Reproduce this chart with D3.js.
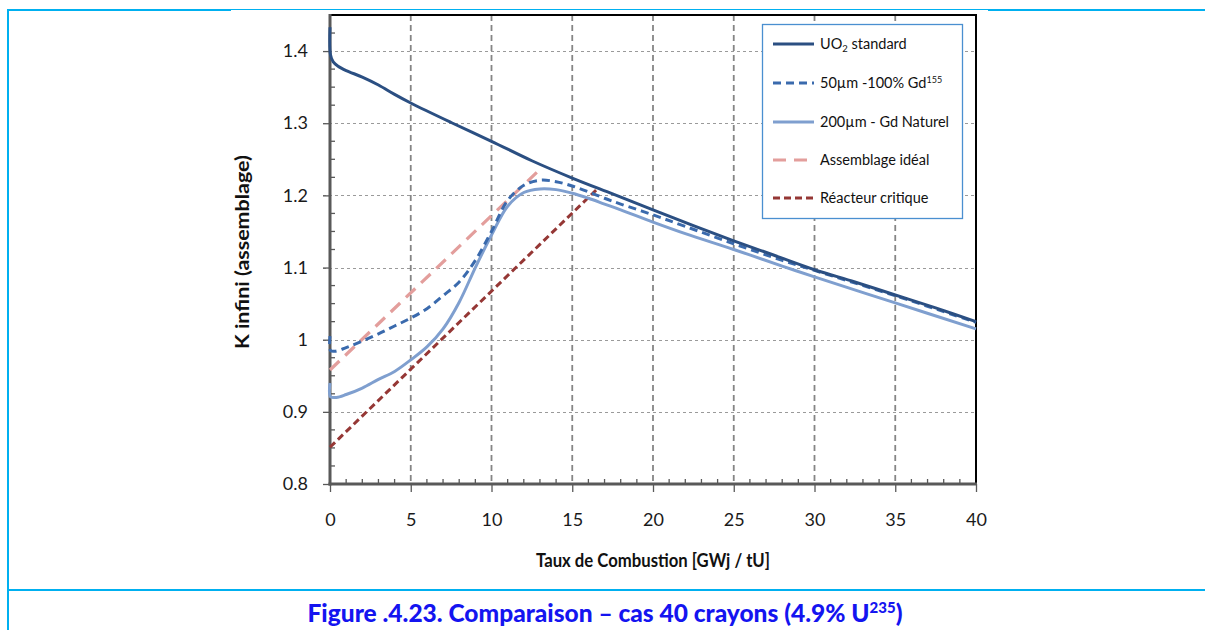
<!DOCTYPE html>
<html>
<head>
<meta charset="utf-8">
<script src="https://cdn.jsdelivr.net/npm/d3@7"></script>
<style>
  html, body { margin: 0; padding: 0; background: #fff; }
  svg { display: block; }
</style>
</head>
<body>
<svg id="chart" width="1205" height="630"></svg>
<script>
// ---------------- DATA ----------------
const xTicks = [0, 5, 10, 15, 20, 25, 30, 35, 40];
const yTicks = [0.8, 0.9, 1.0, 1.1, 1.2, 1.3, 1.4];
const yTickLabels = ["0.8", "0.9", "1", "1.1", "1.2", "1.3", "1.4"];

const uo2X = [0, 0.03, 0.2, 0.5, 1, 2, 3, 4, 5, 7.5, 10, 12.5, 15, 17.5, 20, 22.5, 25, 27.5, 30, 32.5, 35, 37.5, 40];
const uo2Y = [1.433, 1.395, 1.385, 1.379, 1.373, 1.364, 1.353, 1.340, 1.328, 1.301, 1.275, 1.248, 1.224, 1.202, 1.180, 1.158, 1.137, 1.117, 1.097, 1.080, 1.062, 1.044, 1.025];

const gd155X = [0, 0.03, 0.3, 1, 2, 3, 4, 5, 6, 7, 8, 9, 10, 11, 12, 13, 14, 15, 16, 17, 18, 20, 22, 25, 28, 30, 35, 40];
const gd155Y = [1.005, 0.985, 0.984, 0.989, 0.998, 1.008, 1.019, 1.030, 1.043, 1.061, 1.080, 1.110, 1.150, 1.193, 1.214, 1.221, 1.219, 1.213, 1.205, 1.196, 1.188, 1.173, 1.157, 1.133, 1.110, 1.096, 1.061, 1.024];

const gdNatX = [0, 0.03, 0.4, 1, 2, 3, 4, 5, 6, 7, 8, 9, 10, 11, 12, 13, 14, 15, 16, 17, 18, 20, 22, 25, 28, 30, 35, 40];
const gdNatY = [0.940, 0.921, 0.920, 0.924, 0.933, 0.945, 0.956, 0.972, 0.990, 1.015, 1.052, 1.100, 1.145, 1.185, 1.204, 1.209, 1.208, 1.203, 1.196, 1.188, 1.180, 1.163, 1.147, 1.125, 1.102, 1.087, 1.051, 1.015];

const idealX = [0, 13];
const idealY = [0.958, 1.236];

const critX = [0, 16.6];
const critY = [0.851, 1.210];

const seriesNames = ["UO2 standard", "50µm -100% Gd155", "200µm - Gd Naturel", "Assemblage idéal", "Réacteur critique"];

// ---------------- LAYOUT ----------------
const svg = d3.select("#chart");
const FONT = "Lato, 'Open Sans', 'Noto Sans', sans-serif";
const plot = { left: 330, right: 976, top: 15, bottom: 484 };

const x = d3.scaleLinear().domain([0, 40]).range([plot.left, plot.right]);
const y = d3.scaleLinear().domain([0.8, 1.45]).range([plot.bottom, plot.top]);

// Page frame (cyan)
const cyan = "#00b0f0";
svg.append("line").attr("x1", 7).attr("x2", 231).attr("y1", 10).attr("y2", 10).attr("stroke", cyan).attr("stroke-width", 2);
svg.append("line").attr("x1", 231).attr("x2", 988).attr("y1", 9.5).attr("y2", 9.5).attr("stroke", cyan).attr("stroke-width", 1);
svg.append("line").attr("x1", 988).attr("x2", 1205).attr("y1", 10).attr("y2", 10).attr("stroke", cyan).attr("stroke-width", 2);
svg.append("line").attr("x1", 8).attr("x2", 8).attr("y1", 9).attr("y2", 630).attr("stroke", cyan).attr("stroke-width", 2);
svg.append("line").attr("x1", 8).attr("x2", 1205).attr("y1", 590).attr("y2", 590).attr("stroke", cyan).attr("stroke-width", 2);

// Gridlines
const g = svg.append("g");
g.selectAll(".hgrid").data(yTicks.filter(v => v > 0.85)).join("line")
  .attr("x1", plot.left - 7).attr("x2", plot.right)
  .attr("y1", d => Math.round(y(d)) + 0.5).attr("y2", d => Math.round(y(d)) + 0.5)
  .attr("stroke", "#9a9a9a").attr("stroke-width", 1).attr("stroke-dasharray", "3,3");
g.selectAll(".vgrid").data(xTicks.filter(v => v > 0 && v < 40)).join("line")
  .attr("x1", d => x(d)).attr("x2", d => x(d))
  .attr("y1", plot.top).attr("y2", plot.bottom)
  .attr("stroke", "#858585").attr("stroke-width", 1.8).attr("stroke-dasharray", "6,4");

// Plot border top/right
svg.append("line").attr("x1", plot.left).attr("x2", plot.right + 1).attr("y1", plot.top).attr("y2", plot.top).attr("stroke", "#000").attr("stroke-width", 2);
svg.append("line").attr("x1", plot.right).attr("x2", plot.right).attr("y1", plot.top).attr("y2", plot.bottom).attr("stroke", "#000").attr("stroke-width", 2);

// Axes
const axisColor = "#595959";
const yAxis = d3.axisLeft(y).tickValues(yTicks).tickSize(7).tickFormat((d, i) => yTickLabels[i]);
const yAxisG = svg.append("g").attr("transform", `translate(${plot.left},0)`).call(yAxis);
yAxisG.select(".domain").remove();
yAxisG.selectAll(".tick line").attr("stroke", axisColor).attr("stroke-width", 1.3);
yAxisG.selectAll(".tick text").attr("x", -22).attr("font-family", FONT).attr("font-size", 18).attr("fill", "#1a1a1a");
// minor y ticks
const yMinor = d3.range(0.8, 1.45, 0.025).filter(v => Math.abs(Math.round(v * 10) - v * 10) > 0.01);
svg.append("g").selectAll("line").data(yMinor).join("line")
  .attr("x1", plot.left).attr("x2", plot.left + 5)
  .attr("y1", d => y(d)).attr("y2", d => y(d))
  .attr("stroke", axisColor).attr("stroke-width", 1.3);

const xAxis = d3.axisBottom(x).tickValues(xTicks).tickSize(8).tickFormat(d3.format("d"));
const xAxisG = svg.append("g").attr("transform", `translate(0,${plot.bottom})`).call(xAxis);
xAxisG.select(".domain").remove();
xAxisG.selectAll(".tick line").attr("stroke", axisColor).attr("stroke-width", 1.3);
xAxisG.selectAll(".tick text").attr("y", 29).attr("font-family", FONT).attr("font-size", 18).attr("fill", "#1a1a1a");
const xMinor = d3.range(1, 40, 1).filter(v => v % 5 !== 0);
svg.append("g").selectAll("line").data(xMinor).join("line")
  .attr("x1", d => x(d)).attr("x2", d => x(d))
  .attr("y1", plot.bottom).attr("y2", plot.bottom - 5)
  .attr("stroke", axisColor).attr("stroke-width", 1.3);

// axis lines
svg.append("line").attr("x1", plot.left).attr("x2", plot.left).attr("y1", plot.top - 1).attr("y2", plot.bottom + 1.5)
  .attr("stroke", axisColor).attr("stroke-width", 3);
svg.append("line").attr("x1", plot.left - 1.5).attr("x2", plot.right + 1).attr("y1", plot.bottom).attr("y2", plot.bottom)
  .attr("stroke", axisColor).attr("stroke-width", 3);

// Axis titles
svg.append("text").attr("x", 653).attr("y", 567).attr("text-anchor", "middle")
  .attr("font-family", FONT).attr("font-weight", "bold").attr("font-size", 18.5).attr("fill", "#111")
  .attr("textLength", 234).attr("lengthAdjust", "spacingAndGlyphs")
  .text("Taux de Combustion [GWj / tU]");
svg.append("text").attr("transform", "translate(249,252) rotate(-90)").attr("text-anchor", "middle")
  .attr("font-family", FONT).attr("font-weight", "bold").attr("font-size", 18.5).attr("fill", "#111")
  .attr("textLength", 194).attr("lengthAdjust", "spacingAndGlyphs")
  .text("K infini (assemblage)");

// Series
const styles = [
  { xs: uo2X, ys: uo2Y, color: "#2b4f82", dash: null, width: 3 },
  { xs: gd155X, ys: gd155Y, color: "#3a6aad", dash: "8,5", width: 3 },
  { xs: gdNatX, ys: gdNatY, color: "#7f9fcf", dash: null, width: 3 },
  { xs: idealX, ys: idealY, color: "#e39e9c", dash: "13,8", width: 3.2 },
  { xs: critX, ys: critY, color: "#953735", dash: "7,4", width: 3 }
];
const line = d3.line().x(d => x(d[0])).y(d => y(d[1])).curve(d3.curveCatmullRom.alpha(0.5));
const plotG = svg.append("g");
[3, 4, 2, 1, 0].forEach(i => {
  const s = styles[i];
  const pts = s.xs.map((v, k) => [v, s.ys[k]]);
  plotG.append("path").datum(pts).attr("d", line)
    .attr("fill", "none").attr("stroke", s.color).attr("stroke-width", s.width)
    .attr("stroke-dasharray", s.dash).attr("stroke-linejoin", "round");
});

// Legend
const leg = svg.append("g");
leg.append("rect").attr("x", 762.5).attr("y", 24.5).attr("width", 200).attr("height", 194)
  .attr("fill", "#fff").attr("stroke", "#4a8fd0").attr("stroke-width", 1.3);
const legY = [44, 83, 122, 160, 198];
styles.forEach((s, i) => {
  leg.append("line").attr("x1", 773).attr("x2", 814).attr("y1", legY[i]).attr("y2", legY[i])
    .attr("stroke", s.color).attr("stroke-width", s.width).attr("stroke-dasharray", s.dash);
  const t = leg.append("text").attr("x", 820).attr("y", legY[i] + 5)
    .attr("font-family", FONT).attr("font-size", 14.5).attr("fill", "#111");
  if (i === 0) {
    t.append("tspan").text("UO");
    t.append("tspan").attr("font-size", 9.5).attr("dy", 3).text("2");
    t.append("tspan").attr("dy", -3).text(" standard");
  } else if (i === 1) {
    t.append("tspan").text("50µm -100% Gd");
    t.append("tspan").attr("font-size", 9).attr("dy", -5).text("155");
  } else {
    t.text(seriesNames[i]);
  }
});

// Caption
const cap = svg.append("text").attr("x", 605).attr("y", 622).attr("text-anchor", "middle")
  .attr("font-family", FONT).attr("font-weight", "900").attr("font-size", 24.5).attr("fill", "#1414f0");
cap.append("tspan").text("Figure .4.23. Comparaison – cas 40 crayons (4.9% U");
cap.append("tspan").attr("font-size", 15).attr("dy", -9).text("235");
cap.append("tspan").attr("dy", 9).text(")");
</script>
</body>
</html>
